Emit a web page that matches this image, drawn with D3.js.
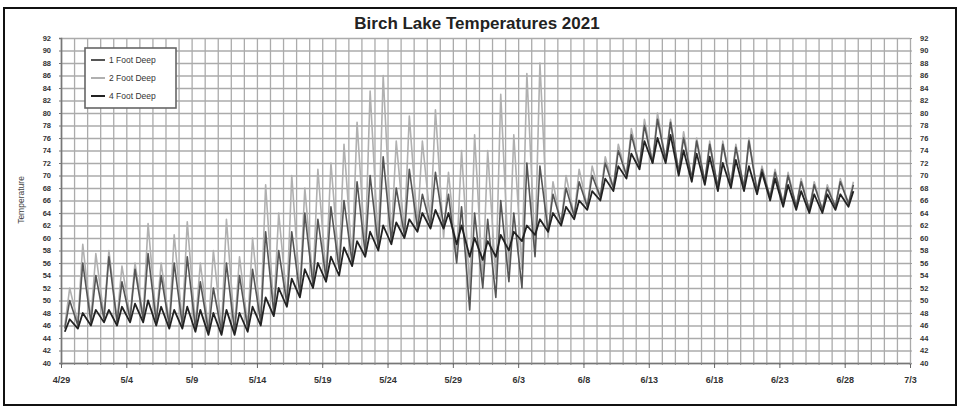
<!DOCTYPE html>
<html lang="en">

<head>
  <meta charset="utf-8">
  <title>Birch Lake Temperatures 2021</title>
  <script src="https://d3js.org/d3.v7.min.js" charset="utf-8"></script>
  <style type="text/css">
    body {
      margin: 0;
      background: #fff;
      font-family: "Liberation Sans", Arial, sans-serif;
    }

    .grid line {
      stroke: #ababab;
      stroke-width: 1.3;
    }

    .grid path {
      display: none;
    }

    .tick text {
      fill: #333;
    }
  </style>
</head>

<body>

  <svg id="chart" class="chart"></svg>

  <script type="text/javascript">
    // daily low / high readings (deg F), day 0 = 4/29
    const foot1Low = [45.5, 46, 46.5, 47, 46.5, 47, 47, 46.5, 46, 46, 45.5, 45, 45, 45, 45.5, 46.5, 48, 49.5, 51, 52.5,
      53.5, 55, 56, 57.5, 58.5, 59.5, 60.5, 61.5, 62, 62, 56, 48.5, 52, 50.5, 53, 52, 57, 61, 62.5, 63.5,
      65, 66.5, 68, 70, 71.5, 72, 72.5, 70.5, 69.5, 69, 68, 68.5, 68, 67.5, 66.5, 65.5, 65, 64.5, 64.5, 65, 65.5];
    const foot1High = [50, 56, 54, 57, 53, 55, 57.5, 54, 56, 57, 53, 52, 56, 54, 55, 61, 58, 61, 64, 63,
      65, 66, 69, 70, 73, 68, 71, 67, 70.5, 67, 65, 64, 63, 66, 64, 72, 71.5, 67, 68, 69,
      70, 72, 74, 76.5, 78, 79, 78.5, 76, 75.5, 75, 75, 74.5, 75.5, 71, 70.5, 70, 69, 68.5, 68, 69, 68.5];

    const foot2Low = [46, 46.5, 47, 47.5, 47, 47.5, 47.5, 47, 46.5, 46.5, 46, 45.5, 45.5, 45.5, 46, 47, 48.5, 50, 51.5, 53,
      54, 55.5, 56.5, 58, 59, 60, 61, 62, 62.5, 60, 57, 52, 53, 53.5, 55, 55, 58, 60, 62, 63.5,
      65, 66.5, 68, 70, 71.5, 72, 72.5, 70.5, 69.5, 69, 68, 68.5, 68, 67.5, 66.5, 65.5, 65, 64.5, 64.5, 65, 65.5];
    const foot2High = [52, 59, 57.5, 58, 55.5, 56, 62.3, 56, 60.5, 62.6, 56, 58, 63, 57, 60, 68.5, 64, 70, 68, 71,
      72, 75, 78.5, 83.5, 86, 75.5, 79.5, 75.5, 80.5, 70.5, 74, 76.5, 74, 83, 76.5, 86.3, 88, 69, 70, 71,
      71.5, 73, 75, 77.5, 79, 80, 79, 77, 76, 75.5, 75.5, 75, 76, 71.5, 71, 70.5, 69.5, 69, 68.5, 69.5, 69];

    const foot4Low = [45, 45.5, 46, 46.5, 46, 46.5, 46.5, 46, 45.5, 45.5, 45, 44.5, 44.5, 44.5, 45, 46, 47.5, 49, 50.5, 52,
      53, 54, 55.5, 57, 58, 59, 60, 61, 61.5, 61.5, 59, 57, 56.5, 57, 58, 59.5, 60.5, 61, 62, 63,
      64.5, 66, 67.5, 69.5, 71, 72, 72, 70, 69, 68.5, 67.5, 68, 67.5, 67, 66, 65, 64.5, 64, 64, 64.5, 65];
    const foot4High = [47, 48, 48.5, 48.5, 49, 49.5, 50, 49, 48.5, 49, 48.5, 48, 48.5, 48, 49, 50.5, 52, 53.5, 55, 56,
      57, 58.5, 59.5, 61, 62, 62.5, 63, 64, 64.5, 64, 62, 60, 59.5, 60.5, 61, 62, 63, 64, 65, 66,
      67.5, 69.5, 71.5, 73.5, 75.5, 76, 76.5, 74, 73.5, 73, 72, 72.5, 71.5, 70.5, 69.5, 68.5, 67.5, 67, 67, 67, 67.5];

    const seriesNames = ["1 Foot Deep", "2 Foot Deep", "4 Foot Deep"];
    const xTickLabels = ["4/29", "5/4", "5/9", "5/14", "5/19", "5/24", "5/29", "6/3", "6/8", "6/13", "6/18", "6/23", "6/28", "7/3"];
    const yTicks = [40, 42, 44, 46, 48, 50, 52, 54, 56, 58, 60, 62, 64, 66, 68, 70, 72, 74, 76, 78, 80, 82, 84, 86, 88, 90, 92];

    const maxWidth = 961;
    const maxHeight = 409;
    const margin = { top: 38, right: 51, bottom: 46, left: 61 };
    const width = maxWidth - margin.left - margin.right;
    const height = maxHeight - margin.top - margin.bottom;

    const startDate = new Date(2021, 3, 29);
    const endDate = new Date(2021, 6, 3);

    const svg = d3.select("#chart")
      .attr("width", maxWidth)
      .attr("height", maxHeight);

    // outer frame
    svg.append("rect")
      .attr("x", 4).attr("y", 8)
      .attr("width", 952).attr("height", 397)
      .attr("fill", "#fff")
      .attr("stroke", "#111")
      .attr("stroke-width", 2);

    const chart = svg.append("g")
      .attr("transform", `translate(${margin.left}, ${margin.top})`);

    const xScale = d3.scaleTime()
      .domain([startDate, endDate])
      .range([0, width]);

    const yScale = d3.scaleLinear()
      .domain([yTicks[0], yTicks[yTicks.length - 1]])
      .range([height, 0]);

    // grid: one line per day, one per tick
    chart.append("g")
      .attr("class", "grid")
      .attr("transform", `translate(0, ${height})`)
      .call(d3.axisBottom(xScale)
        .tickValues(d3.timeDay.range(startDate, d3.timeDay.offset(endDate, 1)))
        .tickSize(-height)
        .tickFormat(""));

    chart.append("g")
      .attr("class", "grid")
      .call(d3.axisLeft(yScale)
        .tickValues(yTicks)
        .tickSize(-width)
        .tickFormat(""));

    // series points: low in the morning, high in the afternoon
    const toPoints = (lows, highs) => {
      const pts = [];
      lows.forEach((lo, i) => {
        pts.push({ t: d3.timeHour.offset(startDate, i * 24 + 7), v: lo });
        pts.push({ t: d3.timeHour.offset(startDate, i * 24 + 16), v: highs[i] });
      });
      return pts;
    };

    const series = [
      { name: seriesNames[1], color: "#b0b0b0", width: 1.6, points: toPoints(foot2Low, foot2High) },
      { name: seriesNames[0], color: "#555", width: 1.6, points: toPoints(foot1Low, foot1High) },
      { name: seriesNames[2], color: "#222", width: 1.8, points: toPoints(foot4Low, foot4High) }
    ];

    const line = d3.line()
      .x((d) => xScale(d.t))
      .y((d) => yScale(d.v));

    chart.selectAll(".series")
      .data(series)
      .enter()
      .append("path")
      .attr("class", "series")
      .attr("fill", "none")
      .attr("stroke", (d) => d.color)
      .attr("stroke-width", (d) => d.width)
      .attr("stroke-linejoin", "round")
      .attr("d", (d) => line(d.points));

    // axes
    const xMajor = xTickLabels.map((s, i) => d3.timeDay.offset(startDate, i * 5));

    chart.append("g")
      .attr("transform", `translate(0, ${height})`)
      .call(d3.axisBottom(xScale)
        .tickValues(d3.timeDay.range(startDate, d3.timeDay.offset(endDate, 1)))
        .tickSize(2)
        .tickFormat(""))
      .call((g) => g.select(".domain").attr("stroke", "#777").attr("stroke-width", 1.6))
      .call((g) => g.selectAll("line").attr("stroke", "#888"));

    chart.append("g")
      .attr("transform", `translate(0, ${height})`)
      .call(d3.axisBottom(xScale)
        .tickValues(xMajor)
        .tickSize(5)
        .tickPadding(9)
        .tickFormat((d, i) => xTickLabels[i]))
      .call((g) => g.select(".domain").remove())
      .call((g) => g.selectAll("line").attr("stroke", "#666"))
      .call((g) => g.selectAll("text").attr("font-size", 9).attr("font-weight", "bold").attr("font-family", "Liberation Sans"));

    chart.append("g")
      .call(d3.axisLeft(yScale)
        .tickValues(yTicks)
        .tickSize(2)
        .tickPadding(8)
        .tickFormat((d) => d))
      .call((g) => g.select(".domain").attr("stroke", "#777").attr("stroke-width", 1.6))
      .call((g) => g.selectAll("line").attr("stroke", "#777"))
      .call((g) => g.selectAll("text").attr("font-size", 7.5).attr("font-weight", "bold").attr("font-family", "Liberation Sans"));

    chart.append("g")
      .attr("transform", `translate(${width}, 0)`)
      .call(d3.axisRight(yScale)
        .tickValues(yTicks)
        .tickSize(2)
        .tickPadding(8)
        .tickFormat((d) => d))
      .call((g) => g.select(".domain").attr("stroke", "#aaa"))
      .call((g) => g.selectAll("line").attr("stroke", "#999"))
      .call((g) => g.selectAll("text").attr("font-size", 7.5).attr("font-weight", "bold").attr("font-family", "Liberation Sans"));

    // title and axis title
    svg.append("text")
      .attr("x", 477)
      .attr("y", 29)
      .attr("text-anchor", "middle")
      .attr("font-size", 17)
      .attr("font-weight", "bold")
      .attr("font-family", "Liberation Sans")
      .attr("fill", "#222")
      .text("Birch Lake Temperatures 2021");

    svg.append("text")
      .attr("transform", "translate(24, 200) rotate(-90)")
      .attr("text-anchor", "middle")
      .attr("font-size", 8.5)
      .attr("font-family", "Liberation Sans")
      .attr("fill", "#444")
      .text("Temperature");

    // legend
    const legend = svg.append("g")
      .attr("transform", "translate(85, 48)");

    legend.append("rect")
      .attr("width", 91)
      .attr("height", 60)
      .attr("fill", "#fff")
      .attr("stroke", "#666")
      .attr("stroke-width", 1.6);

    const legendOrder = [
      { name: seriesNames[0], color: "#555" },
      { name: seriesNames[1], color: "#b0b0b0" },
      { name: seriesNames[2], color: "#222" }
    ];

    const rows = legend.selectAll(".row")
      .data(legendOrder)
      .enter()
      .append("g")
      .attr("transform", (d, i) => `translate(6, ${12 + i * 18})`);

    rows.append("line")
      .attr("x1", 0).attr("x2", 14)
      .attr("stroke", (d) => d.color)
      .attr("stroke-width", 2);

    rows.append("text")
      .attr("x", 18)
      .attr("y", 3)
      .attr("font-size", 8.5)
      .attr("font-family", "Liberation Sans")
      .attr("fill", "#333")
      .text((d) => d.name);
  </script>
</body>

</html>
